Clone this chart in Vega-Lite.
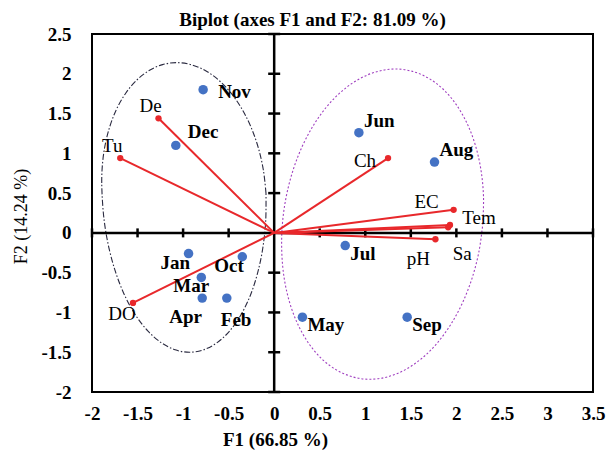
{
 "$schema": "https://vega.github.io/schema/vega-lite/v6.json",
 "width": 501, "height": 358,
 "autosize": {"type": "none"},
 "padding": {"left": 92, "top": 34, "right": 19, "bottom": 62},
 "background": "white",
 "config": {
  "view": {"stroke": "black", "strokeWidth": 2},
  "font": "Liberation Serif",
  "axisX": {"labelExpr": "datum.value + ''", "ticks": false, "domain": false, "grid": false, "tickCount": 11,
    "labelFont": "Liberation Serif", "labelFontSize": 19, "labelFontWeight": "bold", "labelColor": "black", "labelPadding": 12, "labelFlush": false, "labelOverlap": false,
    "titleFont": "Liberation Serif", "titleFontSize": 19, "titleFontWeight": "bold", "titleColor": "black",
    "titleX": 183, "titleY": 47, "titleAlign": "center", "titleBaseline": "middle"},
  "axisY": {"labelExpr": "datum.value + ''", "ticks": false, "domain": false, "grid": false, "tickCount": 9,
    "labelFont": "Liberation Serif", "labelFontSize": 19, "labelFontWeight": "bold", "labelColor": "black", "labelPadding": 21, "labelFlush": false, "labelOverlap": false,
    "titleFont": "Liberation Serif", "titleFontSize": 18, "titleFontWeight": "normal", "titleColor": "black",
    "titleX": -71, "titleY": 182, "titleAlign": "center", "titleBaseline": "middle", "titleAngle": -90}
 },
 "title": {"text": "Biplot (axes F1 and F2: 81.09 %)", "font": "Liberation Serif", "fontSize": 19, "fontWeight": "bold", "color": "black", "anchor": "middle", "dx": -30, "offset": -5},
 "datasets": {
  "months": [
   {"name": "Nov", "F1": -0.78, "F2": 1.80},
   {"name": "Dec", "F1": -1.08, "F2": 1.10},
   {"name": "Jan", "F1": -0.94, "F2": -0.26},
   {"name": "Feb", "F1": -0.52, "F2": -0.82},
   {"name": "Mar", "F1": -0.80, "F2": -0.56},
   {"name": "Apr", "F1": -0.79, "F2": -0.82},
   {"name": "May", "F1": 0.31, "F2": -1.06},
   {"name": "Jun", "F1": 0.93, "F2": 1.26},
   {"name": "Jul", "F1": 0.78, "F2": -0.16},
   {"name": "Aug", "F1": 1.76, "F2": 0.89},
   {"name": "Sep", "F1": 1.46, "F2": -1.06},
   {"name": "Oct", "F1": -0.35, "F2": -0.30}
  ],
  "vars": [
   {"name": "Tu", "F1": -1.69, "F2": 0.94},
   {"name": "De", "F1": -1.27, "F2": 1.44},
   {"name": "DO", "F1": -1.55, "F2": -0.88},
   {"name": "Ch", "F1": 1.25, "F2": 0.94},
   {"name": "EC", "F1": 1.97, "F2": 0.29},
   {"name": "Tem", "F1": 1.93, "F2": 0.10},
   {"name": "Sa", "F1": 1.91, "F2": 0.07},
   {"name": "pH", "F1": 1.77, "F2": -0.08}
  ],
  "ellL": [
   {"ord": 0, "F1": -0.09, "F2": 0.5}, {"ord": 1, "F1": -0.118, "F2": 0.785}, {"ord": 2, "F1": -0.172, "F2": 1.061},
   {"ord": 3, "F1": -0.251, "F2": 1.32}, {"ord": 4, "F1": -0.352, "F2": 1.554}, {"ord": 5, "F1": -0.473, "F2": 1.756},
   {"ord": 6, "F1": -0.609, "F2": 1.92}, {"ord": 7, "F1": -0.757, "F2": 2.041}, {"ord": 8, "F1": -0.913, "F2": 2.115},
   {"ord": 9, "F1": -1.07, "F2": 2.14}, {"ord": 10, "F1": -1.225, "F2": 2.115}, {"ord": 11, "F1": -1.373, "F2": 2.041},
   {"ord": 12, "F1": -1.509, "F2": 1.92}, {"ord": 13, "F1": -1.63, "F2": 1.756}, {"ord": 14, "F1": -1.731, "F2": 1.554},
   {"ord": 15, "F1": -1.809, "F2": 1.32}, {"ord": 16, "F1": -1.863, "F2": 1.061}, {"ord": 17, "F1": -1.89, "F2": 0.785},
   {"ord": 18, "F1": -1.89, "F2": 0.5}, {"ord": 19, "F1": -1.866, "F2": 0.153}, {"ord": 20, "F1": -1.815, "F2": -0.184},
   {"ord": 21, "F1": -1.739, "F2": -0.5}, {"ord": 22, "F1": -1.641, "F2": -0.786}, {"ord": 23, "F1": -1.523, "F2": -1.032},
   {"ord": 24, "F1": -1.388, "F2": -1.232}, {"ord": 25, "F1": -1.241, "F2": -1.379}, {"ord": 26, "F1": -1.087, "F2": -1.47},
   {"ord": 27, "F1": -0.93, "F2": -1.5}, {"ord": 28, "F1": -0.775, "F2": -1.47}, {"ord": 29, "F1": -0.626, "F2": -1.379},
   {"ord": 30, "F1": -0.488, "F2": -1.232}, {"ord": 31, "F1": -0.366, "F2": -1.032}, {"ord": 32, "F1": -0.262, "F2": -0.786},
   {"ord": 33, "F1": -0.181, "F2": -0.5}, {"ord": 34, "F1": -0.124, "F2": -0.184}, {"ord": 35, "F1": -0.093, "F2": 0.153},
   {"ord": 36, "F1": -0.09, "F2": 0.5}
  ],
  "ellR": [
   {"ord": 0, "F1": 2.29, "F2": 0.11}, {"ord": 1, "F1": 2.298, "F2": 0.449}, {"ord": 2, "F1": 2.272, "F2": 0.777},
   {"ord": 3, "F1": 2.213, "F2": 1.085}, {"ord": 4, "F1": 2.123, "F2": 1.363}, {"ord": 5, "F1": 2.004, "F2": 1.604},
   {"ord": 6, "F1": 1.861, "F2": 1.799}, {"ord": 7, "F1": 1.698, "F2": 1.942}, {"ord": 8, "F1": 1.519, "F2": 2.03},
   {"ord": 9, "F1": 1.33, "F2": 2.06}, {"ord": 10, "F1": 1.137, "F2": 2.03}, {"ord": 11, "F1": 0.945, "F2": 1.942},
   {"ord": 12, "F1": 0.761, "F2": 1.799}, {"ord": 13, "F1": 0.59, "F2": 1.604}, {"ord": 14, "F1": 0.437, "F2": 1.363},
   {"ord": 15, "F1": 0.307, "F2": 1.085}, {"ord": 16, "F1": 0.204, "F2": 0.777}, {"ord": 17, "F1": 0.131, "F2": 0.449},
   {"ord": 18, "F1": 0.09, "F2": 0.11}, {"ord": 19, "F1": 0.083, "F2": -0.229}, {"ord": 20, "F1": 0.108, "F2": -0.557},
   {"ord": 21, "F1": 0.167, "F2": -0.865}, {"ord": 22, "F1": 0.257, "F2": -1.143}, {"ord": 23, "F1": 0.376, "F2": -1.384},
   {"ord": 24, "F1": 0.519, "F2": -1.579}, {"ord": 25, "F1": 0.682, "F2": -1.722}, {"ord": 26, "F1": 0.861, "F2": -1.81},
   {"ord": 27, "F1": 1.05, "F2": -1.84}, {"ord": 28, "F1": 1.243, "F2": -1.81}, {"ord": 29, "F1": 1.435, "F2": -1.722},
   {"ord": 30, "F1": 1.619, "F2": -1.579}, {"ord": 31, "F1": 1.79, "F2": -1.384}, {"ord": 32, "F1": 1.943, "F2": -1.143},
   {"ord": 33, "F1": 2.073, "F2": -0.865}, {"ord": 34, "F1": 2.176, "F2": -0.557}, {"ord": 35, "F1": 2.249, "F2": -0.229},
   {"ord": 36, "F1": 2.29, "F2": 0.11}
  ],
  "xticks": [{"v": -2}, {"v": -1.5}, {"v": -1}, {"v": -0.5}, {"v": 0.5}, {"v": 1}, {"v": 1.5}, {"v": 2}, {"v": 2.5}, {"v": 3}, {"v": 3.5}],
  "yticks": [{"v": -2}, {"v": -1.5}, {"v": -1}, {"v": -0.5}, {"v": 0.5}, {"v": 1}, {"v": 1.5}, {"v": 2}, {"v": 2.5}],
  "zero": [{"v": 0}]
 },
 "layer": [
  {
   "data": {"name": "ellL"},
   "mark": {"type": "line", "color": "#2a2a40", "strokeWidth": 1.1, "strokeDash": [6, 2, 1.5, 2], "interpolate": "cardinal", "clip": true},
   "encoding": {
    "x": {"field": "F1", "type": "quantitative", "title": "F1 (66.85 %)", "scale": {"domain": [-2, 3.5], "nice": false, "zero": false}},
    "y": {"field": "F2", "type": "quantitative", "title": "F2 (14.24 %)", "scale": {"domain": [-2, 2.5], "nice": false, "zero": false}},
    "order": {"field": "ord", "type": "quantitative"}
   }
  },
  {
   "data": {"name": "ellR"},
   "mark": {"type": "line", "color": "#a040c0", "strokeWidth": 1.1, "strokeDash": [2, 2], "interpolate": "cardinal", "clip": true},
   "encoding": {
    "x": {"field": "F1", "type": "quantitative", "title": "F1 (66.85 %)", "scale": {"domain": [-2, 3.5], "nice": false, "zero": false}},
    "y": {"field": "F2", "type": "quantitative", "title": "F2 (14.24 %)", "scale": {"domain": [-2, 2.5], "nice": false, "zero": false}},
    "order": {"field": "ord", "type": "quantitative"}
   }
  },
  {
   "data": {"name": "zero"},
   "mark": {"type": "rule", "color": "black", "strokeWidth": 2.5},
   "encoding": {"x": {"field": "v", "type": "quantitative", "title": "F1 (66.85 %)", "scale": {"domain": [-2, 3.5], "nice": false, "zero": false}}}
  },
  {
   "data": {"name": "zero"},
   "mark": {"type": "rule", "color": "black", "strokeWidth": 2.5},
   "encoding": {"y": {"field": "v", "type": "quantitative", "title": "F2 (14.24 %)", "scale": {"domain": [-2, 2.5], "nice": false, "zero": false}}}
  },
  {
   "data": {"name": "xticks"},
   "mark": {"type": "tick", "orient": "vertical", "color": "black", "size": 9, "thickness": 2.5, "opacity": 1},
   "encoding": {
    "x": {"field": "v", "type": "quantitative", "title": "F1 (66.85 %)", "scale": {"domain": [-2, 3.5], "nice": false, "zero": false}},
    "y": {"datum": 0, "type": "quantitative", "title": "F2 (14.24 %)", "scale": {"domain": [-2, 2.5], "nice": false, "zero": false}}
   }
  },
  {
   "data": {"name": "yticks"},
   "mark": {"type": "tick", "orient": "horizontal", "color": "black", "size": 12, "thickness": 2.5, "opacity": 1},
   "encoding": {
    "y": {"field": "v", "type": "quantitative", "title": "F2 (14.24 %)", "scale": {"domain": [-2, 2.5], "nice": false, "zero": false}},
    "x": {"datum": 0, "type": "quantitative", "title": "F1 (66.85 %)", "scale": {"domain": [-2, 3.5], "nice": false, "zero": false}}
   }
  },
  {
   "data": {"name": "vars"},
   "mark": {"type": "rule", "color": "#e8282b", "strokeWidth": 2},
   "encoding": {
    "x": {"field": "F1", "type": "quantitative", "title": "F1 (66.85 %)", "scale": {"domain": [-2, 3.5], "nice": false, "zero": false}},
    "y": {"field": "F2", "type": "quantitative", "title": "F2 (14.24 %)", "scale": {"domain": [-2, 2.5], "nice": false, "zero": false}},
    "x2": {"datum": 0},
    "y2": {"datum": 0}
   }
  },
  {
   "data": {"name": "vars"},
   "mark": {"type": "point", "filled": true, "size": 40, "color": "#e8282b", "opacity": 1},
   "encoding": {
    "x": {"field": "F1", "type": "quantitative", "title": "F1 (66.85 %)", "scale": {"domain": [-2, 3.5], "nice": false, "zero": false}},
    "y": {"field": "F2", "type": "quantitative", "title": "F2 (14.24 %)", "scale": {"domain": [-2, 2.5], "nice": false, "zero": false}}
   }
  },
  {
   "data": {"name": "months"},
   "mark": {"type": "point", "filled": true, "size": 90, "color": "#4472c4", "opacity": 1},
   "encoding": {
    "x": {"field": "F1", "type": "quantitative", "title": "F1 (66.85 %)", "scale": {"domain": [-2, 3.5], "nice": false, "zero": false}},
    "y": {"field": "F2", "type": "quantitative", "title": "F2 (14.24 %)", "scale": {"domain": [-2, 2.5], "nice": false, "zero": false}}
   }
  },
  {
   "data": {"name": "months"}, "transform": [{"filter": {"field": "name", "oneOf": ["Nov"]}}],
   "mark": {"type": "text", "font": "Liberation Serif", "fontSize": 19, "fontWeight": "bold", "color": "black", "align": "left", "baseline": "middle", "dx": 15, "dy": 2},
   "encoding": {"x": {"field": "F1", "type": "quantitative", "title": "F1 (66.85 %)", "scale": {"domain": [-2, 3.5], "nice": false, "zero": false}}, "y": {"field": "F2", "type": "quantitative", "title": "F2 (14.24 %)", "scale": {"domain": [-2, 2.5], "nice": false, "zero": false}}, "text": {"field": "name"}}
  },
  {
   "data": {"name": "months"}, "transform": [{"filter": {"field": "name", "oneOf": ["Dec"]}}],
   "mark": {"type": "text", "font": "Liberation Serif", "fontSize": 19, "fontWeight": "bold", "color": "black", "align": "left", "baseline": "middle", "dx": 12, "dy": -13},
   "encoding": {"x": {"field": "F1", "type": "quantitative", "title": "F1 (66.85 %)", "scale": {"domain": [-2, 3.5], "nice": false, "zero": false}}, "y": {"field": "F2", "type": "quantitative", "title": "F2 (14.24 %)", "scale": {"domain": [-2, 2.5], "nice": false, "zero": false}}, "text": {"field": "name"}}
  },
  {
   "data": {"name": "months"}, "transform": [{"filter": {"field": "name", "oneOf": ["Jun", "Aug"]}}],
   "mark": {"type": "text", "font": "Liberation Serif", "fontSize": 19, "fontWeight": "bold", "color": "black", "align": "left", "baseline": "middle", "dx": 5, "dy": -12},
   "encoding": {"x": {"field": "F1", "type": "quantitative", "title": "F1 (66.85 %)", "scale": {"domain": [-2, 3.5], "nice": false, "zero": false}}, "y": {"field": "F2", "type": "quantitative", "title": "F2 (14.24 %)", "scale": {"domain": [-2, 2.5], "nice": false, "zero": false}}, "text": {"field": "name"}}
  },
  {
   "data": {"name": "months"}, "transform": [{"filter": {"field": "name", "oneOf": ["Jul", "May", "Sep"]}}],
   "mark": {"type": "text", "font": "Liberation Serif", "fontSize": 19, "fontWeight": "bold", "color": "black", "align": "left", "baseline": "middle", "dx": 5, "dy": 8},
   "encoding": {"x": {"field": "F1", "type": "quantitative", "title": "F1 (66.85 %)", "scale": {"domain": [-2, 3.5], "nice": false, "zero": false}}, "y": {"field": "F2", "type": "quantitative", "title": "F2 (14.24 %)", "scale": {"domain": [-2, 2.5], "nice": false, "zero": false}}, "text": {"field": "name"}}
  },
  {
   "data": {"name": "months"}, "transform": [{"filter": {"field": "name", "oneOf": ["Feb"]}}],
   "mark": {"type": "text", "font": "Liberation Serif", "fontSize": 19, "fontWeight": "bold", "color": "black", "align": "left", "baseline": "middle", "dx": -6, "dy": 22},
   "encoding": {"x": {"field": "F1", "type": "quantitative", "title": "F1 (66.85 %)", "scale": {"domain": [-2, 3.5], "nice": false, "zero": false}}, "y": {"field": "F2", "type": "quantitative", "title": "F2 (14.24 %)", "scale": {"domain": [-2, 2.5], "nice": false, "zero": false}}, "text": {"field": "name"}}
  },
  {
   "data": {"name": "months"}, "transform": [{"filter": {"field": "name", "oneOf": ["Jan", "Oct", "Mar"]}}],
   "mark": {"type": "text", "font": "Liberation Serif", "fontSize": 19, "fontWeight": "bold", "color": "black", "align": "left", "baseline": "middle", "dx": -28, "dy": 9},
   "encoding": {"x": {"field": "F1", "type": "quantitative", "title": "F1 (66.85 %)", "scale": {"domain": [-2, 3.5], "nice": false, "zero": false}}, "y": {"field": "F2", "type": "quantitative", "title": "F2 (14.24 %)", "scale": {"domain": [-2, 2.5], "nice": false, "zero": false}}, "text": {"field": "name"}}
  },
  {
   "data": {"name": "months"}, "transform": [{"filter": {"field": "name", "oneOf": ["Apr"]}}],
   "mark": {"type": "text", "font": "Liberation Serif", "fontSize": 19, "fontWeight": "bold", "color": "black", "align": "left", "baseline": "middle", "dx": -33, "dy": 19},
   "encoding": {"x": {"field": "F1", "type": "quantitative", "title": "F1 (66.85 %)", "scale": {"domain": [-2, 3.5], "nice": false, "zero": false}}, "y": {"field": "F2", "type": "quantitative", "title": "F2 (14.24 %)", "scale": {"domain": [-2, 2.5], "nice": false, "zero": false}}, "text": {"field": "name"}}
  },
  {
   "data": {"name": "vars"}, "transform": [{"filter": {"field": "name", "oneOf": ["Tu", "De"]}}],
   "mark": {"type": "text", "font": "Liberation Serif", "fontSize": 19, "color": "black", "align": "center", "baseline": "middle", "dx": -8, "dy": -12},
   "encoding": {"x": {"field": "F1", "type": "quantitative", "title": "F1 (66.85 %)", "scale": {"domain": [-2, 3.5], "nice": false, "zero": false}}, "y": {"field": "F2", "type": "quantitative", "title": "F2 (14.24 %)", "scale": {"domain": [-2, 2.5], "nice": false, "zero": false}}, "text": {"field": "name"}}
  },
  {
   "data": {"name": "vars"}, "transform": [{"filter": {"field": "name", "oneOf": ["DO"]}}],
   "mark": {"type": "text", "font": "Liberation Serif", "fontSize": 19, "color": "black", "align": "center", "baseline": "middle", "dx": -11, "dy": 11},
   "encoding": {"x": {"field": "F1", "type": "quantitative", "title": "F1 (66.85 %)", "scale": {"domain": [-2, 3.5], "nice": false, "zero": false}}, "y": {"field": "F2", "type": "quantitative", "title": "F2 (14.24 %)", "scale": {"domain": [-2, 2.5], "nice": false, "zero": false}}, "text": {"field": "name"}}
  },
  {
   "data": {"name": "vars"}, "transform": [{"filter": {"field": "name", "oneOf": ["Ch"]}}],
   "mark": {"type": "text", "font": "Liberation Serif", "fontSize": 19, "color": "black", "align": "center", "baseline": "middle", "dx": -23, "dy": 3},
   "encoding": {"x": {"field": "F1", "type": "quantitative", "title": "F1 (66.85 %)", "scale": {"domain": [-2, 3.5], "nice": false, "zero": false}}, "y": {"field": "F2", "type": "quantitative", "title": "F2 (14.24 %)", "scale": {"domain": [-2, 2.5], "nice": false, "zero": false}}, "text": {"field": "name"}}
  },
  {
   "data": {"name": "vars"}, "transform": [{"filter": {"field": "name", "oneOf": ["EC"]}}],
   "mark": {"type": "text", "font": "Liberation Serif", "fontSize": 19, "color": "black", "align": "center", "baseline": "middle", "dx": -27, "dy": -8},
   "encoding": {"x": {"field": "F1", "type": "quantitative", "title": "F1 (66.85 %)", "scale": {"domain": [-2, 3.5], "nice": false, "zero": false}}, "y": {"field": "F2", "type": "quantitative", "title": "F2 (14.24 %)", "scale": {"domain": [-2, 2.5], "nice": false, "zero": false}}, "text": {"field": "name"}}
  },
  {
   "data": {"name": "vars"}, "transform": [{"filter": {"field": "name", "oneOf": ["Tem"]}}],
   "mark": {"type": "text", "font": "Liberation Serif", "fontSize": 19, "color": "black", "align": "center", "baseline": "middle", "dx": 29, "dy": -7},
   "encoding": {"x": {"field": "F1", "type": "quantitative", "title": "F1 (66.85 %)", "scale": {"domain": [-2, 3.5], "nice": false, "zero": false}}, "y": {"field": "F2", "type": "quantitative", "title": "F2 (14.24 %)", "scale": {"domain": [-2, 2.5], "nice": false, "zero": false}}, "text": {"field": "name"}}
  },
  {
   "data": {"name": "vars"}, "transform": [{"filter": {"field": "name", "oneOf": ["Sa"]}}],
   "mark": {"type": "text", "font": "Liberation Serif", "fontSize": 19, "color": "black", "align": "center", "baseline": "middle", "dx": 14, "dy": 27},
   "encoding": {"x": {"field": "F1", "type": "quantitative", "title": "F1 (66.85 %)", "scale": {"domain": [-2, 3.5], "nice": false, "zero": false}}, "y": {"field": "F2", "type": "quantitative", "title": "F2 (14.24 %)", "scale": {"domain": [-2, 2.5], "nice": false, "zero": false}}, "text": {"field": "name"}}
  },
  {
   "data": {"name": "vars"}, "transform": [{"filter": {"field": "name", "oneOf": ["pH"]}}],
   "mark": {"type": "text", "font": "Liberation Serif", "fontSize": 19, "color": "black", "align": "center", "baseline": "middle", "dx": -17, "dy": 20},
   "encoding": {"x": {"field": "F1", "type": "quantitative", "title": "F1 (66.85 %)", "scale": {"domain": [-2, 3.5], "nice": false, "zero": false}}, "y": {"field": "F2", "type": "quantitative", "title": "F2 (14.24 %)", "scale": {"domain": [-2, 2.5], "nice": false, "zero": false}}, "text": {"field": "name"}}
  }
 ]
}
